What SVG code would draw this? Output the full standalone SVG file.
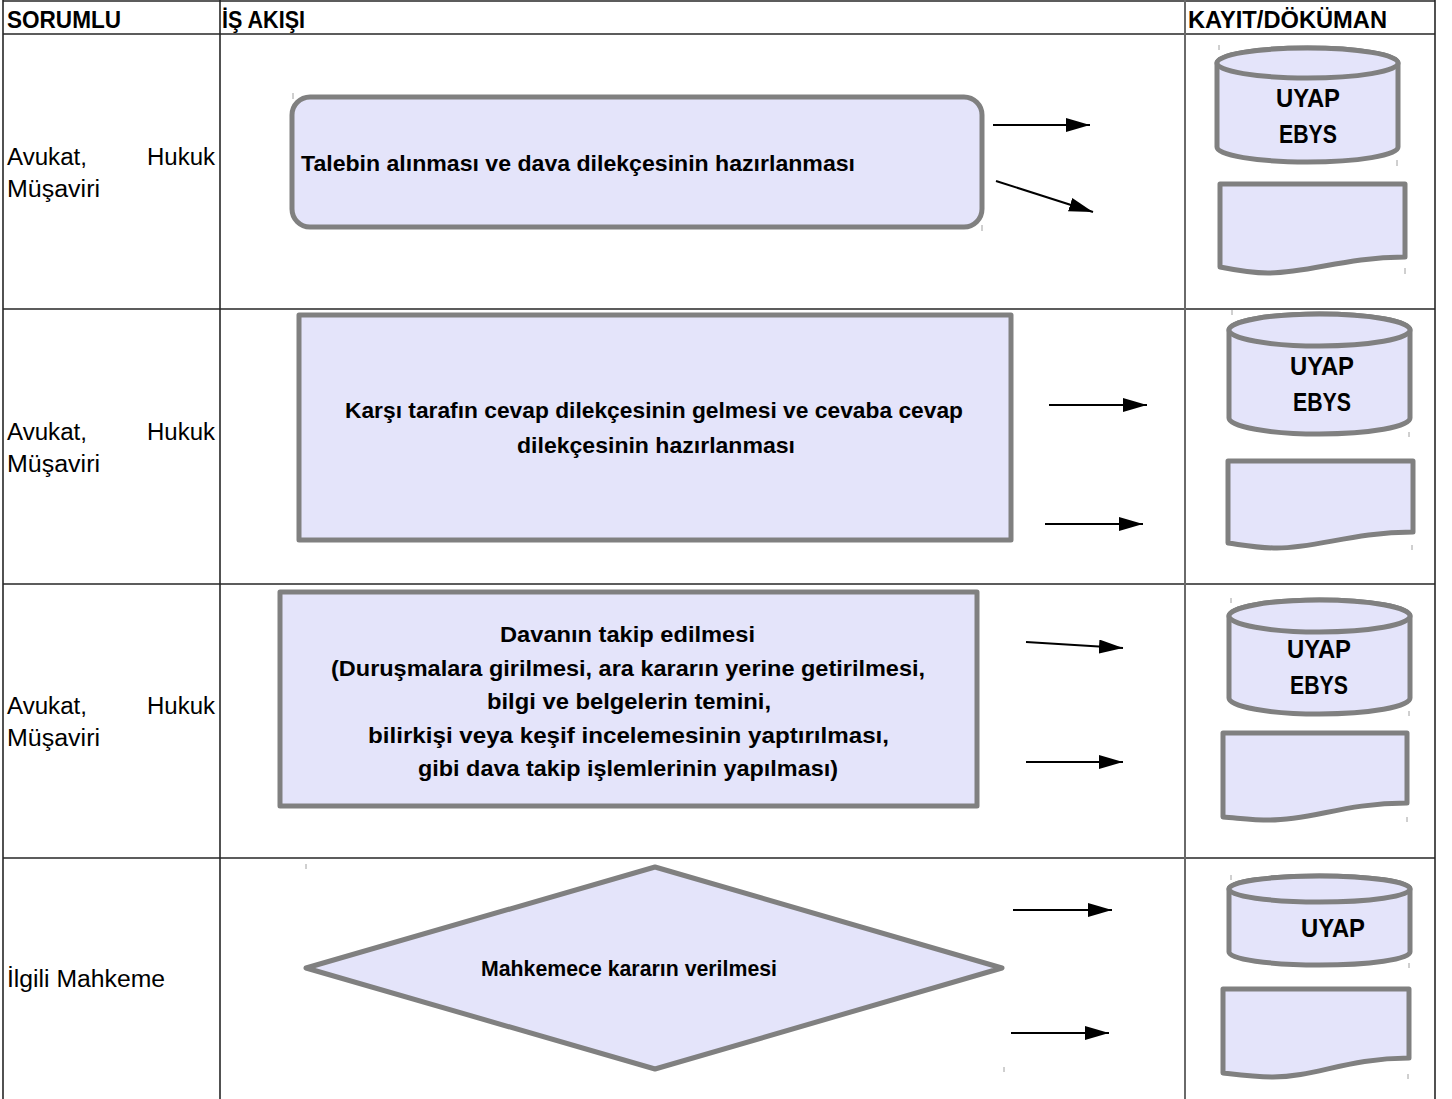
<svg xmlns="http://www.w3.org/2000/svg" width="1452" height="1099" viewBox="0 0 1452 1099">
<style>
  .grid{stroke:#262626;stroke-width:1.6;fill:none}
  .gridg{stroke:#6a6a6a;stroke-width:2;fill:none}
  .hdr{font-family:"Liberation Sans",Arial,sans-serif;font-weight:bold;font-size:23px;fill:#000}
  .lbl{font-family:"Liberation Sans",Arial,sans-serif;font-size:23px;fill:#000}
  .box{font-family:"Liberation Sans",Arial,sans-serif;font-weight:bold;font-size:22px;fill:#000}
  .db{font-family:"Liberation Sans",Arial,sans-serif;font-weight:bold;font-size:25px;fill:#000;text-anchor:middle}
  .shape{fill:#E4E4FA;stroke:#808080;stroke-width:5;stroke-linejoin:round}
  .arr{stroke:#000;stroke-width:2;fill:none;marker-end:url(#ah)}
  .tick{stroke:#a0a0a0;stroke-width:1}
</style>
<defs>
  <marker id="ah" viewBox="0 0 24 14" markerWidth="24" markerHeight="14" refX="24" refY="7" orient="auto" markerUnits="userSpaceOnUse">
    <path d="M0,0 L24,7 L0,14 Z" fill="#000"/>
  </marker>
</defs>
<rect width="1452" height="1099" fill="#fff"/>

<g id="table">
  <line class="grid" x1="3" y1="1" x2="1435" y2="1"/>
  <line class="grid" x1="3" y1="34" x2="1435" y2="34"/>
  <line class="grid" x1="3" y1="309" x2="1435" y2="309"/>
  <line class="grid" x1="3" y1="584" x2="1435" y2="584"/>
  <line class="grid" x1="3" y1="858" x2="1435" y2="858"/>
  <line class="grid" x1="3" y1="0" x2="3" y2="1099"/>
  <line class="grid" x1="220" y1="0" x2="220" y2="1099"/>
  <line class="gridg" x1="1185" y1="0" x2="1185" y2="1099"/>
  <line class="grid" x1="1435" y1="0" x2="1435" y2="1099"/>
  <text class="hdr" x="7" y="28" textLength="114" lengthAdjust="spacingAndGlyphs">SORUMLU</text>
  <text class="hdr" x="222" y="28" textLength="83" lengthAdjust="spacingAndGlyphs">İŞ AKIŞI</text>
  <text class="hdr" x="1188" y="28" textLength="199" lengthAdjust="spacingAndGlyphs">KAYIT/DÖKÜMAN</text>
  <text class="lbl" x="7" y="165" textLength="80" lengthAdjust="spacingAndGlyphs">Avukat,</text>
  <text class="lbl" x="147" y="165" textLength="68" lengthAdjust="spacingAndGlyphs">Hukuk</text>
  <text class="lbl" x="7" y="197" textLength="93" lengthAdjust="spacingAndGlyphs">Müşaviri</text>
  <text class="lbl" x="7" y="440" textLength="80" lengthAdjust="spacingAndGlyphs">Avukat,</text>
  <text class="lbl" x="147" y="440" textLength="68" lengthAdjust="spacingAndGlyphs">Hukuk</text>
  <text class="lbl" x="7" y="472" textLength="93" lengthAdjust="spacingAndGlyphs">Müşaviri</text>
  <text class="lbl" x="7" y="714" textLength="80" lengthAdjust="spacingAndGlyphs">Avukat,</text>
  <text class="lbl" x="147" y="714" textLength="68" lengthAdjust="spacingAndGlyphs">Hukuk</text>
  <text class="lbl" x="7" y="746" textLength="93" lengthAdjust="spacingAndGlyphs">Müşaviri</text>
  <text class="lbl" x="7" y="987" textLength="158" lengthAdjust="spacingAndGlyphs">İlgili Mahkeme</text>
</g>

<g id="step1">
  <rect class="shape" x="292" y="97" width="690" height="130" rx="18"/>
  <text class="box" x="301" y="171" textLength="554" lengthAdjust="spacingAndGlyphs">Talebin alınması ve dava dilekçesinin hazırlanması</text>
</g>

<g id="step2">
  <rect class="shape" x="299" y="315" width="712" height="225"/>
  <text class="box" x="345" y="418" textLength="618" lengthAdjust="spacingAndGlyphs">Karşı tarafın cevap dilekçesinin gelmesi ve cevaba cevap</text>
  <text class="box" x="517" y="453" textLength="278" lengthAdjust="spacingAndGlyphs">dilekçesinin hazırlanması</text>
</g>

<g id="step3">
  <rect class="shape" x="280" y="592" width="697" height="214"/>
  <text class="box" x="500" y="642" textLength="255" lengthAdjust="spacingAndGlyphs">Davanın takip edilmesi</text>
  <text class="box" x="331" y="676" textLength="594" lengthAdjust="spacingAndGlyphs">(Duruşmalara girilmesi, ara kararın yerine getirilmesi,</text>
  <text class="box" x="487" y="709" textLength="284" lengthAdjust="spacingAndGlyphs">bilgi ve belgelerin temini,</text>
  <text class="box" x="368" y="743" textLength="521" lengthAdjust="spacingAndGlyphs">bilirkişi veya keşif incelemesinin yaptırılması,</text>
  <text class="box" x="418" y="776" textLength="420" lengthAdjust="spacingAndGlyphs">gibi dava takip işlemlerinin yapılması)</text>
</g>

<g id="step4">
  <polygon class="shape" points="306,968 655,867 1002,968 655,1069"/>
  <text class="box" x="481" y="976" textLength="296" lengthAdjust="spacingAndGlyphs">Mahkemece kararın verilmesi</text>
</g>

<g id="db1">
  <path class="shape" d="M1217,63 A90.5,15 0 0 1 1398,63 L1398,147 A90.5,15 0 0 1 1217,147 Z"/>
  <ellipse class="shape" cx="1307.5" cy="63" rx="90.5" ry="15"/>
  <text class="db" x="1308" y="107" textLength="64" lengthAdjust="spacingAndGlyphs">UYAP</text>
  <text class="db" x="1308" y="143" textLength="58" lengthAdjust="spacingAndGlyphs">EBYS</text>
</g>
<g id="doc1">
  <path class="shape" d="M1220,184 H1405 V257 C1345,257 1310,273 1268,273 C1250,273 1235,270 1220,267 Z"/>
</g>

<g id="db2">
  <path class="shape" d="M1229,330 A90.5,16 0 0 1 1410,330 L1410,418 A90.5,16 0 0 1 1229,418 Z"/>
  <ellipse class="shape" cx="1319.5" cy="330" rx="90.5" ry="16"/>
  <text class="db" x="1322" y="375" textLength="64" lengthAdjust="spacingAndGlyphs">UYAP</text>
  <text class="db" x="1322" y="411" textLength="58" lengthAdjust="spacingAndGlyphs">EBYS</text>
</g>
<g id="doc2">
  <path class="shape" d="M1228,461 H1413 V532 C1353,532 1318,548 1277,548 C1258,548 1243,545 1228,543 Z"/>
</g>

<g id="db3">
  <path class="shape" d="M1229,616 A90.5,16 0 0 1 1410,616 L1410,698 A90.5,16 0 0 1 1229,698 Z"/>
  <ellipse class="shape" cx="1319.5" cy="616" rx="90.5" ry="16"/>
  <text class="db" x="1319" y="658" textLength="64" lengthAdjust="spacingAndGlyphs">UYAP</text>
  <text class="db" x="1319" y="694" textLength="58" lengthAdjust="spacingAndGlyphs">EBYS</text>
</g>
<g id="doc3">
  <path class="shape" d="M1223,733 H1407 V803 C1345,803 1312,820 1270,820 C1252,820 1238,818 1223,817 Z"/>
</g>

<g id="db4">
  <path class="shape" d="M1229,889 A90.5,13 0 0 1 1410,889 L1410,952 A90.5,13 0 0 1 1229,952 Z"/>
  <ellipse class="shape" cx="1319.5" cy="889" rx="90.5" ry="13"/>
  <text class="db" x="1333" y="937" textLength="64" lengthAdjust="spacingAndGlyphs">UYAP</text>
</g>
<g id="doc4">
  <path class="shape" d="M1223,989 H1409 V1058 C1348,1058 1315,1077 1273,1077 C1255,1077 1240,1075 1223,1073 Z"/>
</g>

<g id="connectors">
  <line class="arr" x1="993" y1="125" x2="1090" y2="125"/>
  <line class="arr" x1="996" y1="181" x2="1093" y2="212"/>
  <line class="arr" x1="1049" y1="405" x2="1147" y2="405"/>
  <line class="arr" x1="1045" y1="524" x2="1143" y2="524"/>
  <line class="arr" x1="1026" y1="642" x2="1123" y2="648"/>
  <line class="arr" x1="1026" y1="762" x2="1123" y2="762"/>
  <line class="arr" x1="1013" y1="910" x2="1112" y2="910"/>
  <line class="arr" x1="1011" y1="1033" x2="1109" y2="1033"/>
</g>

<g id="marks">
  <line class="tick" x1="293" y1="93" x2="293" y2="99"/>
  <line class="tick" x1="982" y1="225" x2="982" y2="231"/>
  <line class="tick" x1="1219" y1="45" x2="1219" y2="50"/>
  <line class="tick" x1="1397" y1="160" x2="1397" y2="166"/>
  <line class="tick" x1="1405" y1="268" x2="1405" y2="274"/>
  <line class="tick" x1="1232" y1="310" x2="1232" y2="315"/>
  <line class="tick" x1="1409" y1="432" x2="1409" y2="437"/>
  <line class="tick" x1="1412" y1="545" x2="1412" y2="550"/>
  <line class="tick" x1="1231" y1="598" x2="1231" y2="603"/>
  <line class="tick" x1="1409" y1="711" x2="1409" y2="716"/>
  <line class="tick" x1="1407" y1="817" x2="1407" y2="822"/>
  <line class="tick" x1="1231" y1="875" x2="1231" y2="880"/>
  <line class="tick" x1="1409" y1="963" x2="1409" y2="968"/>
  <line class="tick" x1="1408" y1="1074" x2="1408" y2="1079"/>
  <line class="tick" x1="306" y1="864" x2="306" y2="869"/>
  <line class="tick" x1="1004" y1="1067" x2="1004" y2="1072"/>
</g>
</svg>
